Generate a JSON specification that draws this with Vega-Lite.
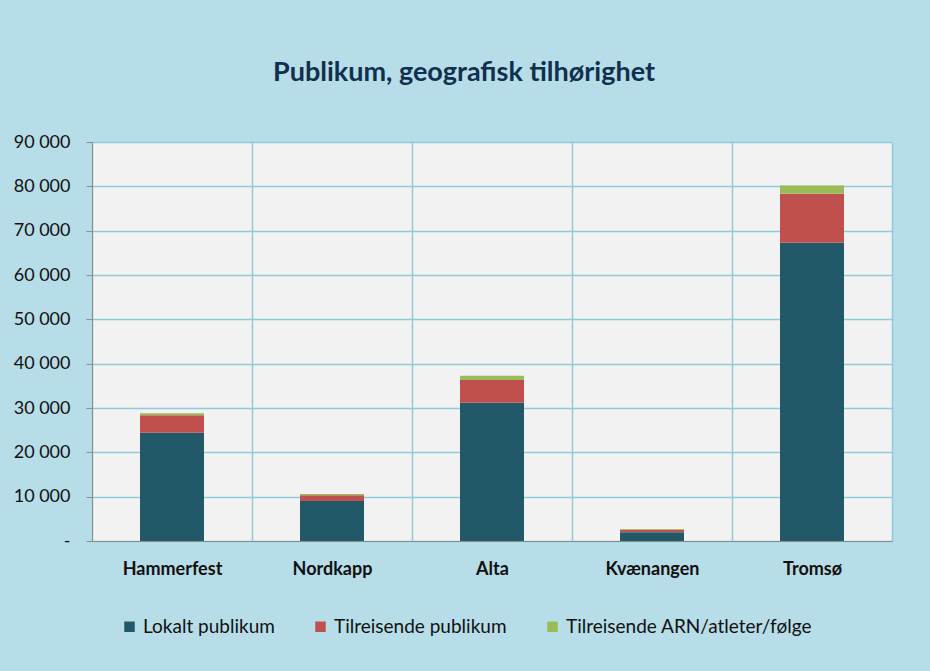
{
  "$schema": "https://vega.github.io/schema/vega-lite/v6.json",
  "autosize": {"type": "none"},
  "width": 800,
  "height": 399,
  "padding": {"left": 92, "top": 142, "right": 38, "bottom": 130},
  "background": "#b7dde8",
  "title": {
    "text": "Publikum, geografisk tilhørighet",
    "font": "Lato",
    "fontSize": 27,
    "fontWeight": "bold",
    "color": "#10304f",
    "anchor": "middle",
    "dx": -28,
    "offset": 46
  },
  "data": {
    "values": [
      {"sted": "Hammerfest", "gruppe": "Lokalt publikum", "ordre": 1, "antall": 24400},
      {"sted": "Hammerfest", "gruppe": "Tilreisende publikum", "ordre": 2, "antall": 3950},
      {"sted": "Hammerfest", "gruppe": "Tilreisende ARN/atleter/følge", "ordre": 3, "antall": 450},
      {"sted": "Nordkapp", "gruppe": "Lokalt publikum", "ordre": 1, "antall": 9000},
      {"sted": "Nordkapp", "gruppe": "Tilreisende publikum", "ordre": 2, "antall": 1300},
      {"sted": "Nordkapp", "gruppe": "Tilreisende ARN/atleter/følge", "ordre": 3, "antall": 300},
      {"sted": "Alta", "gruppe": "Lokalt publikum", "ordre": 1, "antall": 31200},
      {"sted": "Alta", "gruppe": "Tilreisende publikum", "ordre": 2, "antall": 5100},
      {"sted": "Alta", "gruppe": "Tilreisende ARN/atleter/følge", "ordre": 3, "antall": 1000},
      {"sted": "Kvænangen", "gruppe": "Lokalt publikum", "ordre": 1, "antall": 2000},
      {"sted": "Kvænangen", "gruppe": "Tilreisende publikum", "ordre": 2, "antall": 550},
      {"sted": "Kvænangen", "gruppe": "Tilreisende ARN/atleter/følge", "ordre": 3, "antall": 150},
      {"sted": "Tromsø", "gruppe": "Lokalt publikum", "ordre": 1, "antall": 67300},
      {"sted": "Tromsø", "gruppe": "Tilreisende publikum", "ordre": 2, "antall": 11000},
      {"sted": "Tromsø", "gruppe": "Tilreisende ARN/atleter/følge", "ordre": 3, "antall": 1900}
    ]
  },
  "mark": {"type": "bar", "width": {"band": 0.4}},
  "encoding": {
    "x": {
      "field": "sted",
      "type": "nominal",
      "sort": ["Hammerfest", "Nordkapp", "Alta", "Kvænangen", "Tromsø"],
      "scale": {"paddingInner": 0, "paddingOuter": 0},
      "axis": {
        "title": null,
        "labelAngle": 0,
        "labelFont": "Lato",
        "labelFontSize": 18,
        "labelFontWeight": "bold",
        "labelColor": "#111111",
        "labelPadding": 19,
        "ticks": false,
        "tickBand": "extent",
        "grid": true,
        "gridColor": "#8ecbdb",
        "gridWidth": 1.5,
        "domainColor": "#8c8c8c",
        "domainWidth": 1
      }
    },
    "y": {
      "field": "antall",
      "type": "quantitative",
      "stack": "zero",
      "scale": {"domain": [0, 90000]},
      "axis": {
        "title": null,
        "values": [0, 10000, 20000, 30000, 40000, 50000, 60000, 70000, 80000, 90000],
        "labelExpr": "datum.value == 0 ? '-  ' : replace(format(datum.value, ','), ',', ' ')",
        "labelFont": "Lato",
        "labelFontSize": 18,
        "labelColor": "#111111",
        "labelPadding": 16,
        "tickSize": 6,
        "tickColor": "#8c8c8c",
        "domainColor": "#8c8c8c",
        "gridColor": "#8ecbdb",
        "gridWidth": 1.5
      }
    },
    "color": {
      "field": "gruppe",
      "type": "nominal",
      "sort": ["Lokalt publikum", "Tilreisende publikum", "Tilreisende ARN/atleter/følge"],
      "scale": {
        "domain": ["Lokalt publikum", "Tilreisende publikum", "Tilreisende ARN/atleter/følge"],
        "range": ["#215968", "#c0504d", "#9bbb59"]
      },
      "legend": {
        "title": null,
        "orient": "none",
        "legendX": 28,
        "legendY": 475,
        "direction": "horizontal",
        "symbolType": "square",
        "symbolSize": 110,
        "symbolStrokeWidth": 0,
        "labelFont": "Lato",
        "labelFontSize": 19,
        "labelColor": "#111111",
        "labelLimit": 400,
        "columnPadding": 36
      }
    },
    "order": {"field": "ordre", "type": "quantitative"}
  },
  "config": {
    "view": {"fill": "#f2f2f2", "stroke": "#c8d8de", "strokeWidth": 1}
  }
}
